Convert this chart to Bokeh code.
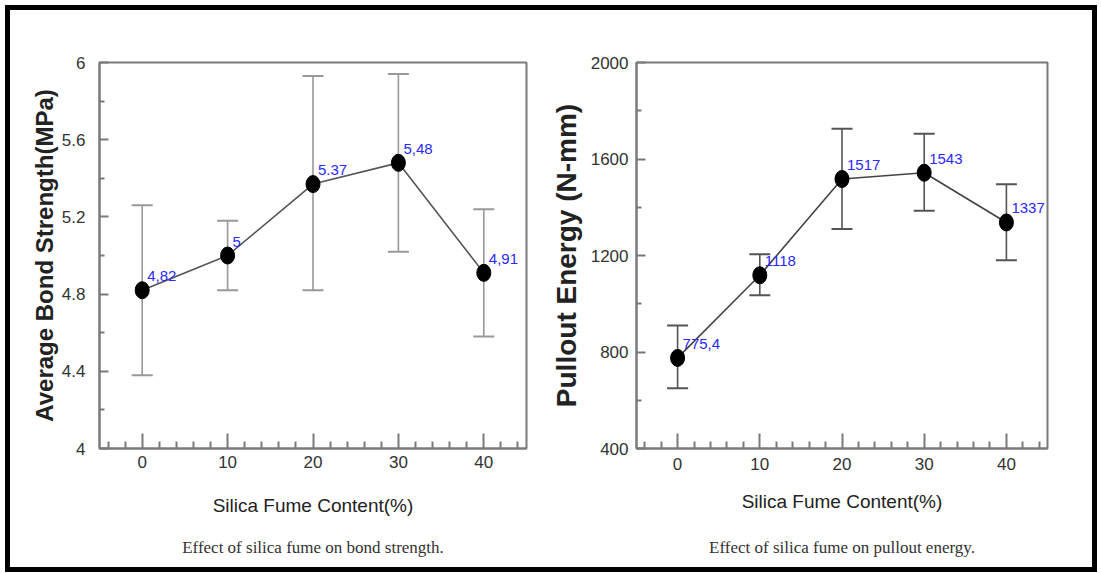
from bokeh.plotting import figure
from bokeh.models import ColumnDataSource, Whisker, TeeHead, FixedTicker, LabelSet, Range1d, LinearAxis
from bokeh.layouts import row
from bokeh.embed import file_html
from bokeh.resources import INLINE
from bokeh.core.properties import value

# ---- data ----
silica_content = [0, 10, 20, 30, 40]

bond_strength = [4.82, 5.00, 5.37, 5.48, 4.91]
bond_upper = [5.26, 5.18, 5.93, 5.94, 5.24]
bond_lower = [4.38, 4.82, 4.82, 5.02, 4.58]
bond_labels = ["4,82", "5", "5.37", "5,48", "4,91"]

pullout_energy = [775.4, 1118, 1517, 1543, 1337]
pullout_upper = [910, 1205, 1725, 1705, 1495]
pullout_lower = [650, 1035, 1310, 1385, 1180]
pullout_labels = ["775,4", "1118", "1517", "1543", "1337"]

x_ticks = [0, 10, 20, 30, 40]
x_minor_ticks = [-4, -2, 2, 4, 6, 8, 12, 14, 16, 18, 22, 24, 26, 28, 32, 34, 36, 38, 42, 44]
bond_ticks = [4, 4.4, 4.8, 5.2, 5.6, 6]
bond_tick_labels = ["4", "4.4", "4.8", "5.2", "5.6", "6"]
bond_minor_ticks = [4.2, 4.6, 5.0, 5.4, 5.8]
energy_ticks = [400, 800, 1200, 1600, 2000]
energy_tick_labels = ["400", "800", "1200", "1600", "2000"]
energy_minor_ticks = [600, 1000, 1400, 1800]

x_title = "Silica Fume Content(%)"
bond_title = "Average Bond Strength(MPa)"
energy_title = "Pullout Energy (N-mm)"
bond_caption = "Effect of silica fume on bond strength."
energy_caption = "Effect of silica fume on pullout energy."

SANS = "Liberation Sans"
SERIF = "Liberation Serif"


def make_panel(width, height, mb_left, mb_right, mb_top, mb_bottom, y_range,
               values, upper, lower, labels, yticks, ytick_labels, yminor,
               ytitle, ytitle_size, caption, err_color, line_color,
               y_label_standoff, y_title_standoff, x_label_standoff, x_title_standoff,
               caption_standoff):
    p = figure(width=width, height=height, output_backend="svg", toolbar_location=None,
               x_range=Range1d(-5, 45), y_range=Range1d(*y_range),
               min_border_left=mb_left, min_border_right=mb_right,
               min_border_top=mb_top, min_border_bottom=mb_bottom)
    p.grid.visible = False
    p.outline_line_color = "#7a7a7a"
    p.outline_line_width = 2
    p.background_fill_color = "white"
    p.border_fill_color = "white"

    xa = p.xaxis[0]
    xa.ticker = FixedTicker(ticks=x_ticks, minor_ticks=x_minor_ticks)
    xa.major_tick_in = 15
    xa.major_tick_out = 0
    xa.minor_tick_in = 7
    xa.minor_tick_out = 0
    xa.axis_line_color = "#7a7a7a"
    xa.axis_line_width = 2
    xa.major_tick_line_color = "#7a7a7a"
    xa.minor_tick_line_color = "#7a7a7a"
    xa.major_tick_line_width = 2
    xa.minor_tick_line_width = 2
    xa.major_label_text_font = SANS
    xa.major_label_text_font_size = "17px"
    xa.major_label_text_color = "#333333"
    xa.major_label_standoff = x_label_standoff
    xa.axis_label = x_title
    xa.axis_label_text_font = SANS
    xa.axis_label_text_font_size = "19px"
    xa.axis_label_text_font_style = "normal"
    xa.axis_label_text_color = "#222222"
    xa.axis_label_standoff = x_title_standoff

    # caption carried by a bare extra axis below the x axis
    cap_axis = LinearAxis(ticker=FixedTicker(ticks=[]), axis_label=caption,
                          axis_line_color=None, major_tick_line_color=None,
                          minor_tick_line_color=None, major_tick_in=0, major_tick_out=0,
                          minor_tick_in=0, minor_tick_out=0, major_label_standoff=0,
                          axis_label_standoff=caption_standoff,
                          axis_label_text_font=SERIF, axis_label_text_font_size="17px",
                          axis_label_text_font_style="normal",
                          axis_label_text_color="#333333")
    p.add_layout(cap_axis, "below")

    ya = p.yaxis[0]
    ya.ticker = FixedTicker(ticks=yticks, minor_ticks=yminor)
    ya.major_label_overrides = {t: l for t, l in zip(yticks, ytick_labels)}
    ya.major_tick_in = 9
    ya.major_tick_out = 0
    ya.minor_tick_in = 5
    ya.minor_tick_out = 0
    ya.axis_line_color = "#7a7a7a"
    ya.axis_line_width = 2
    ya.major_tick_line_color = "#7a7a7a"
    ya.minor_tick_line_color = "#7a7a7a"
    ya.major_tick_line_width = 2
    ya.minor_tick_line_width = 2
    ya.major_label_text_font = SANS
    ya.major_label_text_font_size = "17px"
    ya.major_label_text_color = "#333333"
    ya.major_label_standoff = y_label_standoff
    ya.axis_label = ytitle
    ya.axis_label_text_font = SANS
    ya.axis_label_text_font_size = ytitle_size
    ya.axis_label_text_font_style = "bold"
    ya.axis_label_text_color = "#222222"
    ya.axis_label_standoff = y_title_standoff

    src = ColumnDataSource(dict(x=silica_content, y=values, upper=upper, lower=lower, label=labels))

    whisker = Whisker(base="x", upper="upper", lower="lower", source=src,
                      line_color=err_color, line_width=1.6,
                      upper_head=TeeHead(size=21, line_color=err_color, line_width=2),
                      lower_head=TeeHead(size=21, line_color=err_color, line_width=2))
    p.add_layout(whisker)

    p.line("x", "y", source=src, line_color=line_color, line_width=1.6)
    p.ellipse("x", "y", source=src, width=14, height=17, width_units="screen",
              height_units="screen", fill_color="black", line_color="black")

    lbl = LabelSet(x="x", y="y", text="label", source=src, x_offset=5, y_offset=9,
                   text_font=value(SANS), text_font_size="15px", text_color="#2a2aff",
                   text_baseline="bottom", text_align="left")
    p.add_layout(lbl)
    return p


p1 = make_panel(537, 557, 89, 21, 51, 117, (4, 6),
                bond_strength, bond_upper, bond_lower, bond_labels,
                bond_ticks, bond_tick_labels, bond_minor_ticks,
                bond_title, "24px", bond_caption, "#999999", "#555555",
                14, 1, 7, 24, 19)
p2 = make_panel(545, 557, 83, 45, 52, 119, (400, 2000),
                pullout_energy, pullout_upper, pullout_lower, pullout_labels,
                energy_ticks, energy_tick_labels, energy_minor_ticks,
                energy_title, "28px", energy_caption, "#555555", "#444444",
                8, 6, 9, 18, 23)

layout = row(p1, p2, styles={"border": "5px solid black", "background-color": "white",
                             "margin-left": "5px", "margin-top": "5px",
                             "margin-bottom": "-15px"})

open("out.html", "w").write(file_html(layout, INLINE))
